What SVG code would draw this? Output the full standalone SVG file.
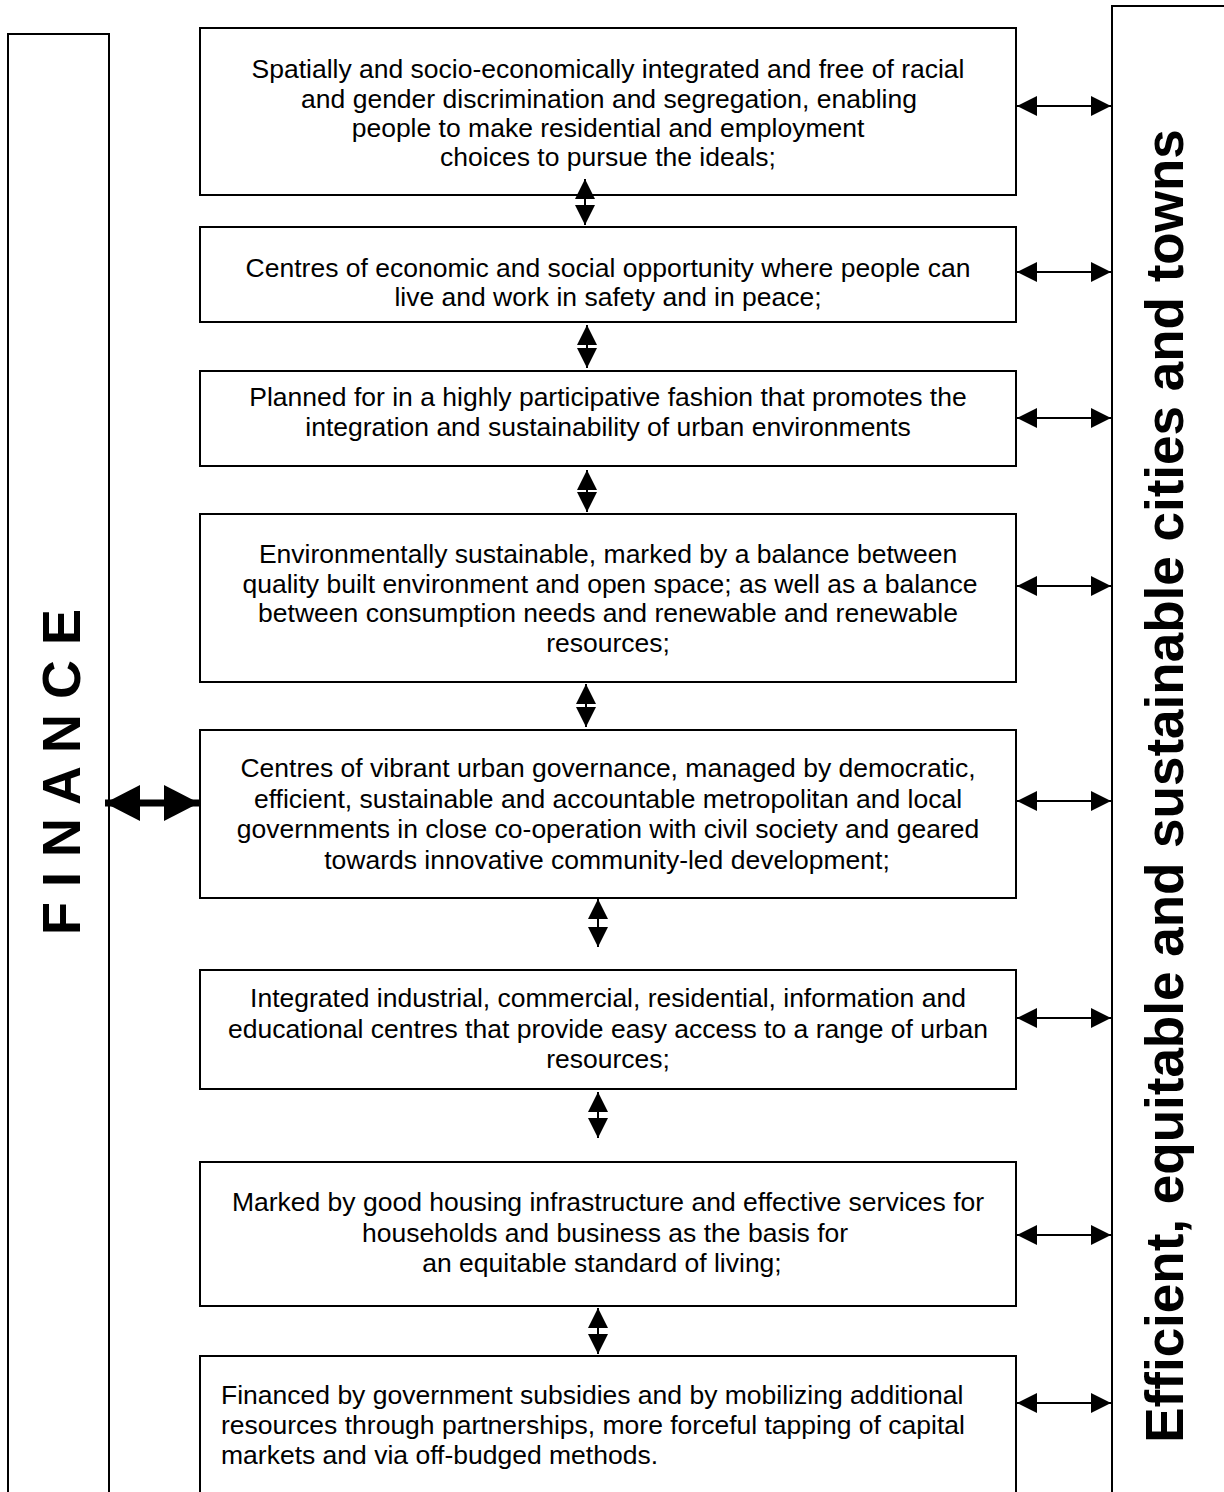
<svg xmlns="http://www.w3.org/2000/svg" width="1224" height="1492" viewBox="0 0 1224 1492">
  <style>
    .box { fill: #ffffff; stroke: #000000; stroke-width: 2; }
    .t { font-family: "Liberation Sans", Arial, sans-serif; font-size: 26.5px; fill: #000000; }
    .c { text-anchor: middle; }
    .side { font-family: "Liberation Sans", Arial, sans-serif; font-weight: bold; fill: #000000; text-anchor: middle; }
    .link { stroke: #000000; stroke-width: 2; fill: none; marker-start: url(#head); marker-end: url(#head); }
    .big { stroke: #000000; stroke-width: 7; fill: none; marker-start: url(#bighead); marker-end: url(#bighead); }
  </style>
  <defs>
    <marker id="head" viewBox="0 0 20 20" refX="20" refY="10" markerWidth="20" markerHeight="20" markerUnits="userSpaceOnUse" orient="auto-start-reverse">
      <path d="M0,0 L20,10 L0,20 Z" fill="#000000"/>
    </marker>
    <marker id="bighead" viewBox="0 0 35 36" refX="35" refY="18" markerWidth="35" markerHeight="36" markerUnits="userSpaceOnUse" orient="auto-start-reverse">
      <path d="M0,0 L35,18 L0,36 Z" fill="#000000"/>
    </marker>
  </defs>

  <rect width="1224" height="1492" fill="#ffffff"/>

  <!-- left column: finance -->
  <g id="finance">
    <rect class="box" x="8" y="34" width="101" height="1470"/>
    <text class="side" font-size="54" transform="translate(80,772) rotate(-90)">F I N A N C E</text>
  </g>

  <!-- right column: overall goal -->
  <g id="goal">
    <rect class="box" x="1112" y="6" width="130" height="1500"/>
    <text class="side" font-size="53" transform="translate(1183,786) rotate(-90)">Efficient, equitable and sustainable cities and towns</text>
  </g>

  <g id="node1">
    <rect class="box" x="200" y="28" width="816" height="167"/>
    <text class="t c" x="608" y="78">Spatially and socio-economically integrated and free of racial</text>
    <text class="t c" x="609" y="108">and gender discrimination and segregation, enabling</text>
    <text class="t c" x="608" y="137">people to make residential and employment</text>
    <text class="t c" x="608" y="166">choices to pursue the ideals;</text>
  </g>

  <g id="node2">
    <rect class="box" x="200" y="227" width="816" height="95"/>
    <text class="t c" x="608" y="277">Centres of economic and social opportunity where people can</text>
    <text class="t c" x="608" y="306">live and work in safety and in peace;</text>
  </g>

  <g id="node3">
    <rect class="box" x="200" y="371" width="816" height="95"/>
    <text class="t c" x="608" y="406">Planned for in a highly participative fashion that promotes the</text>
    <text class="t c" x="608" y="436">integration and sustainability of urban environments</text>
  </g>

  <g id="node4">
    <rect class="box" x="200" y="514" width="816" height="168"/>
    <text class="t c" x="608" y="563">Environmentally sustainable, marked by a balance between</text>
    <text class="t c" x="610" y="593">quality built environment and open space; as well as a balance</text>
    <text class="t c" x="608" y="622">between consumption needs and renewable and renewable</text>
    <text class="t c" x="608" y="652">resources;</text>
  </g>

  <g id="node5">
    <rect class="box" x="200" y="730" width="816" height="168"/>
    <text class="t c" x="608" y="777">Centres of vibrant urban governance, managed by democratic,</text>
    <text class="t c" x="608" y="808">efficient, sustainable and accountable metropolitan and local</text>
    <text class="t c" x="608" y="838">governments in close co-operation with civil society and geared</text>
    <text class="t c" x="607" y="869">towards innovative community-led development;</text>
  </g>

  <g id="node6">
    <rect class="box" x="200" y="970" width="816" height="119"/>
    <text class="t c" x="608" y="1007">Integrated industrial, commercial, residential, information and</text>
    <text class="t c" x="608" y="1038">educational centres that provide easy access to a range of urban</text>
    <text class="t c" x="608" y="1068">resources;</text>
  </g>

  <g id="node7">
    <rect class="box" x="200" y="1162" width="816" height="144"/>
    <text class="t c" x="608" y="1211">Marked by good housing infrastructure and effective services for</text>
    <text class="t c" x="605" y="1242">households and business as the basis for</text>
    <text class="t c" x="602" y="1272">an equitable standard of living;</text>
  </g>

  <g id="node8">
    <rect class="box" x="200" y="1356" width="816" height="160"/>
    <text class="t" x="221" y="1404">Financed by government subsidies and by mobilizing additional</text>
    <text class="t" x="221" y="1434">resources through partnerships, more forceful tapping of capital</text>
    <text class="t" x="221" y="1464">markets and via off-budged methods.</text>
  </g>

  <!-- connectors -->
  <g id="connectors">
    <line class="big" x1="105" y1="803" x2="199" y2="803"/>

    <line class="link" x1="585" y1="179" x2="585" y2="225"/>
    <line class="link" x1="587" y1="325" x2="587" y2="368"/>
    <line class="link" x1="587" y1="470" x2="587" y2="512"/>
    <line class="link" x1="586" y1="684" x2="586" y2="727"/>
    <line class="link" x1="598" y1="899" x2="598" y2="947"/>
    <line class="link" x1="598" y1="1092" x2="598" y2="1138"/>
    <line class="link" x1="598" y1="1308" x2="598" y2="1354"/>

    <line class="link" x1="1017" y1="106" x2="1111" y2="106"/>
    <line class="link" x1="1017" y1="272" x2="1111" y2="272"/>
    <line class="link" x1="1017" y1="418" x2="1111" y2="418"/>
    <line class="link" x1="1017" y1="586" x2="1111" y2="586"/>
    <line class="link" x1="1017" y1="801" x2="1111" y2="801"/>
    <line class="link" x1="1017" y1="1018" x2="1111" y2="1018"/>
    <line class="link" x1="1017" y1="1235" x2="1111" y2="1235"/>
    <line class="link" x1="1017" y1="1403" x2="1111" y2="1403"/>
  </g>
</svg>
